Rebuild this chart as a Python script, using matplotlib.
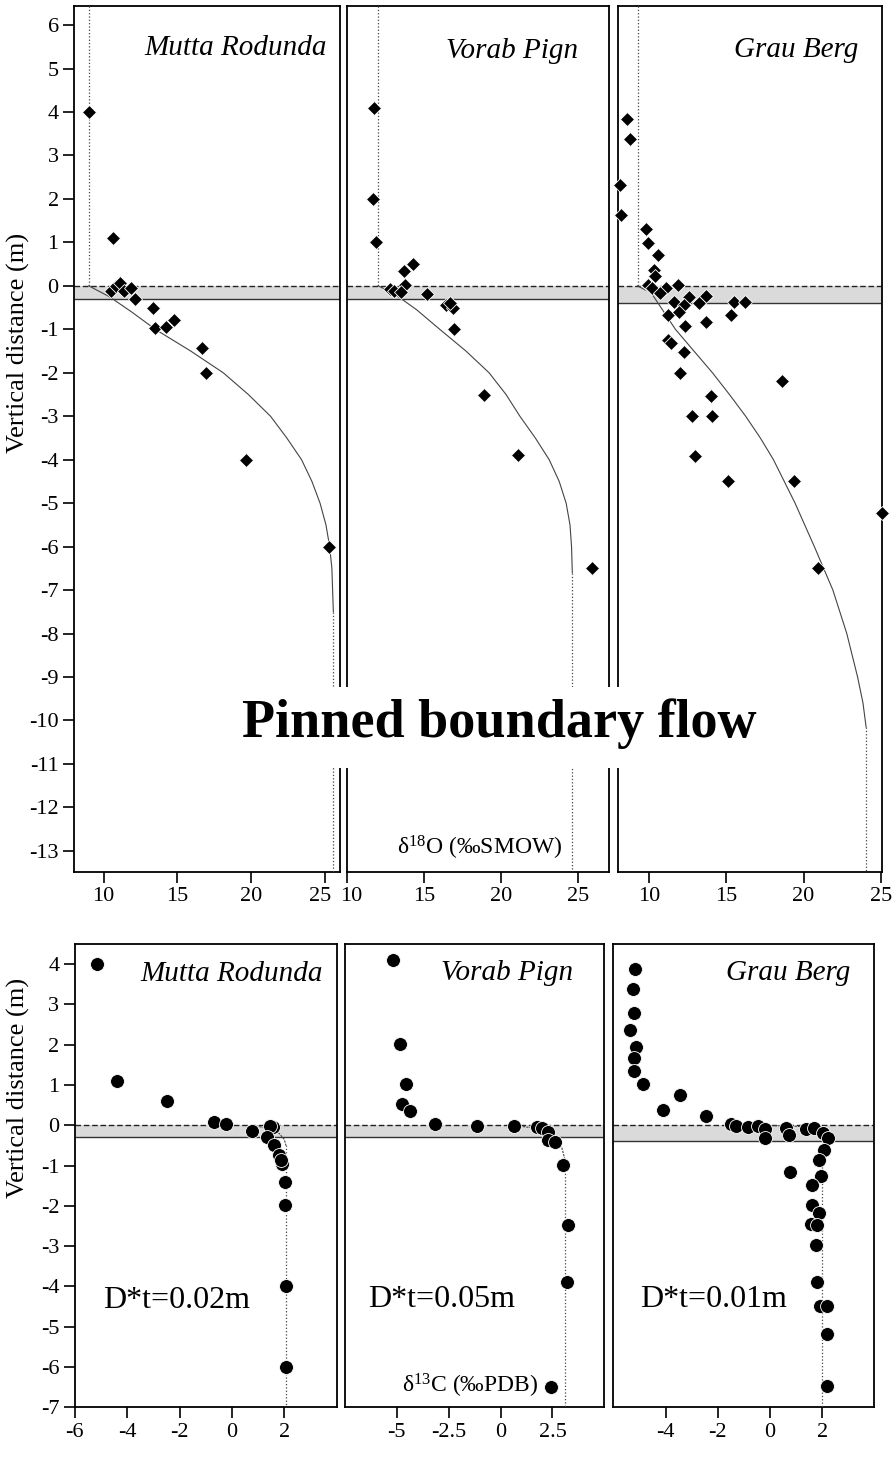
import matplotlib
matplotlib.use('Agg')
import matplotlib.pyplot as plt
from matplotlib.patches import Rectangle
from matplotlib.transforms import ScaledTranslation

plt.rcParams['font.family'] = 'Liberation Serif'
plt.rcParams['axes.unicode_minus'] = False
plt.rcParams['mathtext.fontset'] = 'custom'
plt.rcParams['mathtext.rm'] = 'Liberation Serif'
plt.rcParams['mathtext.it'] = 'Liberation Serif:italic'

W, H = 893, 1478

sites = ['Mutta Rodunda', 'Vorab Pign', 'Grau Berg']
dt_labels = ['D*t=0.02m', 'D*t=0.05m', 'D*t=0.01m']

# ---- d18O (top row) ----
mr_o_x = [9.0, 10.65, 10.5, 10.85, 11.1, 11.4, 11.85, 12.1, 13.35, 13.45, 14.2, 14.75, 16.65, 16.9, 19.65, 25.25]
mr_o_y = [4.0, 1.1, -0.12, 0.0, 0.06, -0.12, -0.05, -0.3, -0.52, -0.98, -0.95, -0.78, -1.42, -2.0, -4.0, -6.0]

vp_o_x = [11.75, 11.65, 11.85, 14.25, 13.7, 13.75, 12.8, 13.0, 13.5, 15.2, 16.4, 16.85, 16.65, 16.95, 18.9, 21.1, 25.9]
vp_o_y = [4.1, 2.0, 1.0, 0.5, 0.35, 0.02, -0.08, -0.12, -0.15, -0.18, -0.45, -0.5, -0.4, -1.0, -2.5, -3.9, -6.5]

gb_o_x = [8.55, 8.75, 8.1, 8.2, 9.8, 9.95, 10.55, 10.3, 10.4, 9.95, 10.2, 11.1, 10.7, 11.85, 12.55, 13.65,
          11.6, 12.25, 13.2, 15.5, 16.2, 15.3, 11.25, 11.9, 12.35, 13.7, 11.25, 11.4, 12.25, 12.0, 18.6,
          14.0, 12.8, 14.05, 12.95, 15.1, 19.4, 25.05, 20.95]
gb_o_y = [3.85, 3.37, 2.33, 1.63, 1.3, 0.98, 0.7, 0.36, 0.22, 0.02, -0.06, -0.06, -0.17, 0.02, -0.25, -0.23,
          -0.37, -0.44, -0.4, -0.37, -0.37, -0.67, -0.67, -0.6, -0.92, -0.83, -1.25, -1.32, -1.52, -2.0, -2.2,
          -2.54, -3.0, -3.0, -3.92, -4.5, -4.5, -5.22, -6.5]

# model curves for d18O
mr_o_cx = [9.0, 10.4, 11.9, 13.5, 15.9, 18.1, 19.8, 21.3, 22.4, 23.4, 24.1, 24.65, 25.05, 25.3, 25.45, 25.5, 25.55]
mr_o_cy = [0.0, -0.25, -0.6, -1.0, -1.5, -2.0, -2.5, -3.0, -3.5, -4.0, -4.5, -5.0, -5.5, -6.0, -6.5, -7.0, -7.5]
vp_o_cx = [12.0, 13.0, 14.5, 16.0, 17.7, 19.2, 20.3, 21.2, 22.2, 23.1, 23.75, 24.2, 24.45, 24.55, 24.6]
vp_o_cy = [0.0, -0.17, -0.55, -1.0, -1.5, -2.0, -2.5, -3.0, -3.5, -4.0, -4.5, -5.0, -5.5, -6.0, -6.6]
gb_o_cx = [9.25, 10.15, 11.7, 12.9, 14.1, 15.2, 16.25, 17.2, 18.05, 19.45, 20.7, 21.9, 22.8, 23.5, 23.85, 24.05]
gb_o_cy = [0.0, -0.17, -1.0, -1.5, -2.0, -2.5, -3.0, -3.5, -4.0, -5.0, -6.0, -7.0, -8.0, -9.0, -9.6, -10.15]

# ---- d13C (bottom row) ----
mr_c_x = [-5.14, -4.38, -2.46, -0.7, -0.22, 0.75, 1.55, 1.45, 1.34, 1.62, 1.78, 1.93, 1.87, 2.02, 2.02, 2.06, 2.08]
mr_c_y = [4.0, 1.1, 0.61, 0.08, 0.03, -0.13, -0.05, -0.03, -0.28, -0.49, -0.74, -0.96, -0.86, -1.4, -1.99, -4.0, -6.0]

vp_c_x = [-5.19, -4.87, -4.55, -4.74, -4.36, -3.15, -1.12, 0.63, 1.75, 1.99, 2.28, 2.31, 2.63, 3.03, 3.27, 3.22, 2.42]
vp_c_y = [4.11, 2.01, 1.02, 0.52, 0.36, 0.03, -0.01, -0.01, -0.05, -0.07, -0.16, -0.36, -0.42, -0.98, -2.47, -3.88, -6.49]

gb_c_x = [-5.17, -5.24, -5.2, -5.36, -5.13, -5.2, -5.2, -4.85, -3.45, -4.11, -2.44, -1.48, -1.29, -0.85, -0.44,
          -0.17, -0.17, 0.62, 0.74, 1.38, 1.7, 2.02, 2.23, 2.08, 1.89, 1.95, 0.76, 1.63, 1.63, 1.89, 1.57,
          1.82, 1.76, 1.82, 1.93, 2.18, 2.18, 2.18]
gb_c_y = [3.88, 3.38, 2.78, 2.37, 1.95, 1.67, 1.36, 1.03, 0.74, 0.38, 0.23, 0.03, -0.03, -0.05, -0.01,
          -0.1, -0.32, -0.07, -0.24, -0.1, -0.07, -0.2, -0.32, -0.61, -0.86, -1.27, -1.17, -1.48, -1.98, -2.17, -2.46,
          -2.47, -2.97, -3.88, -4.48, -4.48, -5.19, -6.47]

mr_c_cx = [0.8, 1.4, 1.8, 2.0, 2.06]
mr_c_cy = [0.0, -0.08, -0.2, -0.35, -0.5]
vp_c_cx = [0.6, 1.8, 2.5, 2.95, 3.1]
vp_c_cy = [0.0, -0.08, -0.25, -0.55, -0.85]
gb_c_cx = [-0.2, 1.2, 1.8, 2.0]
gb_c_cy = [0.0, -0.03, -0.12, -0.3]

# shaded interval (0 down to this depth)
band_o = [-0.3, -0.3, -0.4]
band_c = [-0.3, -0.28, -0.38]

xlims_o = [(8, 26), (10, 27), (8, 25.1)]
xticks_o = [[10, 15, 20, 25], [10, 15, 20, 25], [10, 15, 20, 25]]
xlims_c = [(-6, 4), (-7.5, 5), (-6, 4)]
xticks_c = [[-6, -4, -2, 0, 2], [-5, -2.5, 0, 2.5], [-4, -2, 0, 2]]
xticklabels_c = [['-6', '-4', '-2', '0', '2'], ['-5', '-2.5', '0', '2.5'], ['-4', '-2', '0', '2']]

o_pts = [(mr_o_x, mr_o_y), (vp_o_x, vp_o_y), (gb_o_x, gb_o_y)]
o_curves = [(mr_o_cx, mr_o_cy), (vp_o_cx, vp_o_cy), (gb_o_cx, gb_o_cy)]
c_pts = [(mr_c_x, mr_c_y), (vp_c_x, vp_c_y), (gb_c_x, gb_c_y)]
c_curves = [(mr_c_cx, mr_c_cy), (vp_c_cx, vp_c_cy), (gb_c_cx, gb_c_cy)]


def fx(px):
    return px / W


def fy(py):
    return 1 - py / H


# axes boxes in pixels (left, top, right, bottom)
top_boxes = [(74, 6, 340, 871.7), (347.3, 6, 609.3, 871.7), (618.3, 6, 882.3, 871.7)]
bot_boxes = [(74.7, 944, 336.7, 1407.3), (345, 944, 604.3, 1407.3), (613.3, 944, 874.3, 1407.3)]

fig = plt.figure(figsize=(W / 100, H / 100), dpi=100)

line_col = '#444444'


def style_axes(ax, first):
    for s in ax.spines.values():
        s.set_linewidth(1.3)
    ax.tick_params(axis='both', direction='out', length=8, width=1.2, labelsize=16, pad=3)
    if not first:
        ax.tick_params(axis='y', left=False, labelleft=False)


def nudge(label, dx):
    label.set_transform(label.get_transform() + ScaledTranslation(dx / 100, 0, fig.dpi_scale_trans))


top_axes = []
for i in range(3):
    l, t, r, b = top_boxes[i]
    ax = fig.add_axes([fx(l), fy(b), fx(r) - fx(l), fy(t) - fy(b)])
    ymin, ymax = -13.48, 6.44
    ax.set_xlim(*xlims_o[i])
    ax.set_ylim(ymin, ymax)
    ax.axhspan(band_o[i], 0, color='#dadada', lw=0, zorder=1)
    ax.axhline(0, color='#222222', lw=1.0, ls=(0, (4, 2)), zorder=2)
    ax.axhline(band_o[i], color='#333333', lw=1.0, zorder=2)
    cx, cy = o_curves[i]
    ax.plot([cx[0], cx[0]], [ymax, 0], color=line_col, lw=0.9, ls=':', zorder=3)
    ax.plot(cx, cy, color=line_col, lw=0.8, zorder=3)
    ax.plot([cx[-1], cx[-1]], [cy[-1], ymin], color=line_col, lw=0.9, ls=':', zorder=3)
    px_, py_ = o_pts[i]
    ax.plot(px_, py_, 'D', color='black', ms=7.2, mec='white', mew=0.6, zorder=4, clip_on=False)
    ax.set_xticks(xticks_o[i])
    ax.set_yticks(range(-13, 7))
    style_axes(ax, i == 0)
    top_axes.append(ax)

# keep the "25" and "10" labels at the panel joins apart
nudge(top_axes[0].get_xticklabels()[-1], -5)
nudge(top_axes[1].get_xticklabels()[0], 4)

for i in range(3):
    l, t, r, b = bot_boxes[i]
    ax = fig.add_axes([fx(l), fy(b), fx(r) - fx(l), fy(t) - fy(b)])
    ymin, ymax = -7, 4.5
    ax.set_xlim(*xlims_c[i])
    ax.set_ylim(ymin, ymax)
    ax.axhspan(band_c[i], 0, color='#dadada', lw=0, zorder=1)
    ax.axhline(0, color='#222222', lw=1.0, ls=(0, (4, 2)), zorder=2)
    ax.axhline(band_c[i], color='#333333', lw=1.0, zorder=2)
    cx, cy = c_curves[i]
    ax.plot(cx, cy, color=line_col, lw=0.8, ls=(0, (2, 1)), zorder=3)
    ax.plot([cx[-1], cx[-1]], [cy[-1], ymin], color=line_col, lw=0.9, ls=':', zorder=3)
    px_, py_ = c_pts[i]
    ax.plot(px_, py_, 'o', color='black', ms=10, mec='white', mew=0.6, zorder=4, clip_on=False)
    ax.set_xticks(xticks_c[i])
    ax.set_xticklabels(xticklabels_c[i])
    ax.set_yticks(range(-7, 5))
    style_axes(ax, i == 0)

# site names
top_title_pos = [(327, 55), (578, 58), (858, 57)]
bot_title_pos = [(323, 981), (573, 980), (850, 980)]
for i in range(3):
    fig.text(fx(top_title_pos[i][0]), fy(top_title_pos[i][1]), sites[i], ha='right', va='baseline',
             fontsize=21, style='italic')
    fig.text(fx(bot_title_pos[i][0]), fy(bot_title_pos[i][1]), sites[i], ha='right', va='baseline',
             fontsize=21, style='italic')

dt_pos = [(103, 1308), (368, 1307), (640, 1307)]
for i in range(3):
    fig.text(fx(dt_pos[i][0]), fy(dt_pos[i][1]), dt_labels[i], ha='left', va='baseline', fontsize=23)

fig.text(fx(397), fy(855), r'$\mathrm{\delta}^{18}\mathrm{O}$' + ' (‰SMOW)', ha='left', va='baseline', fontsize=17)
fig.text(fx(402), fy(1393), r'$\mathrm{\delta}^{13}\mathrm{C}$' + ' (‰PDB)', ha='left', va='baseline', fontsize=17)

fig.text(fx(18), fy(343), 'Vertical distance (m)', rotation=90, ha='center', va='center', fontsize=19)
fig.text(fx(18), fy(1088), 'Vertical distance (m)', rotation=90, ha='center', va='center', fontsize=19)

# title box over the top row
fig.add_artist(Rectangle((fx(228), fy(768)), fx(775) - fx(228), fy(687) - fy(768),
                         transform=fig.transFigure, facecolor='white', edgecolor='none', zorder=10))
fig.text(fx(499), fy(737), 'Pinned boundary flow', ha='center', va='baseline',
         fontsize=39, fontweight='bold', zorder=11)

fig.savefig('out.png', dpi=100)
